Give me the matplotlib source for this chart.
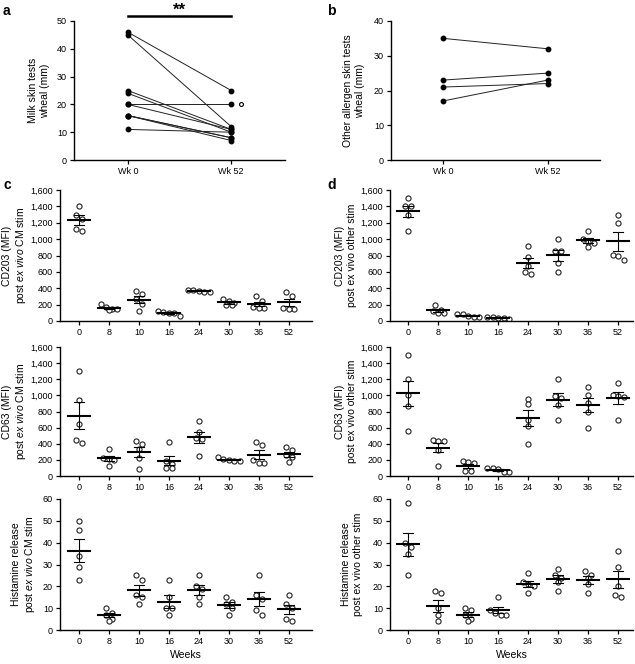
import numpy as np
import matplotlib
matplotlib.use("Agg")
import matplotlib.pyplot as plt
from matplotlib.ticker import FuncFormatter

plt.rcParams['font.family'] = ['Liberation Sans', 'DejaVu Sans']
plt.rcParams['mathtext.fontset'] = 'custom'
plt.rcParams['mathtext.rm'] = 'Liberation Sans'
plt.rcParams['mathtext.it'] = 'Liberation Sans:italic'

# ---- data ----
visits = ['Wk 0', 'Wk 52']
milk_wk0 = [46, 45, 25, 24, 20, 20, 16, 16, 16, 11]
milk_wk52 = [25, 12, 11, 10, 20, 11, 8, 7, 8, 10]
milk_open = [20]
other_wk0 = [35, 23, 21, 17]
other_wk52 = [32, 25, 22, 23]

weeks = ['0', '8', '10', '16', '24', '30', '36', '52']

cd203_cm = [
    [1410, 1300, 1250, 1120, 1100],
    [210, 170, 150, 140, 145],
    [370, 330, 270, 210, 120],
    [120, 110, 100, 95, 60],
    [380, 375, 370, 360, 360],
    [270, 250, 220, 200, 190],
    [300, 240, 170, 160, 160],
    [360, 310, 160, 150, 150],
]
cd203_other = [
    [1500, 1400, 1400, 1300, 1100],
    [190, 140, 120, 100, 100],
    [90, 80, 60, 50, 50],
    [50, 45, 40, 35, 30],
    [910, 780, 670, 600, 570],
    [1000, 860, 850, 710, 600],
    [1100, 1000, 970, 950, 900],
    [1300, 1200, 810, 800, 750],
]
cd63_cm = [
    [1300, 940, 650, 450, 410],
    [340, 220, 210, 200, 120],
    [430, 400, 330, 220, 90],
    [420, 190, 150, 100, 100],
    [680, 540, 470, 460, 250],
    [230, 210, 200, 190, 180],
    [420, 380, 200, 160, 160],
    [360, 320, 260, 230, 170],
]
cd63_other = [
    [1500, 1200, 1000, 870, 560],
    [450, 430, 430, 320, 130],
    [180, 170, 160, 60, 60],
    [100, 100, 90, 50, 50],
    [960, 890, 700, 620, 400],
    [1200, 990, 970, 880, 700],
    [1100, 1000, 900, 800, 600],
    [1150, 1000, 990, 980, 690],
]
hist_cm = [
    [50, 46, 34, 29, 23],
    [10, 8, 7, 5, 4],
    [25, 23, 16, 15, 12],
    [23, 15, 10, 10, 7],
    [25, 20, 19, 15, 12],
    [15, 13, 12, 10, 7],
    [25, 16, 14, 9, 7],
    [16, 12, 10, 5, 4],
]
hist_other = [
    [58, 40, 38, 35, 25],
    [18, 17, 10, 7, 4],
    [10, 9, 7, 5, 4],
    [15, 9, 8, 7, 7],
    [26, 22, 21, 20, 17],
    [28, 25, 24, 22, 18],
    [27, 25, 24, 21, 17],
    [36, 29, 20, 16, 15],
]

W, H = 635, 664
fig = plt.figure(figsize=(W / 100, H / 100), dpi=100)


def px_axes(left, top, right, bottom):
    return fig.add_axes([left / W, 1 - bottom / H, (right - left) / W, (bottom - top) / H])


def style(ax):
    for s in ['top', 'right']:
        ax.spines[s].set_visible(False)
    for s in ['left', 'bottom']:
        ax.spines[s].set_linewidth(1.0)
    ax.tick_params(direction='out', length=3, width=0.9, labelsize=6.5, pad=2)


def swarm(vals, units_per_px, diam=5.5, xpx=30.0):
    vals = np.asarray(vals, float)
    order = np.argsort(vals)[::-1]
    offs = np.zeros(len(vals))
    rows = []
    for i in order:
        if rows and abs(vals[rows[-1][0]] - vals[i]) / units_per_px < diam:
            rows[-1].append(i)
        else:
            rows.append([i])
    for row in rows:
        m = len(row)
        for k, i in enumerate(row):
            offs[i] = (k - (m - 1) / 2) * diam / xpx
    return offs


def scatter_panel(ax, data, ymax, ystep, ylabel, labx, xlim, xlabel=None):
    style(ax)
    upp = ymax / 131.0
    for i, vals in enumerate(data):
        vals = np.asarray(vals, float)
        m = vals.mean()
        sem = vals.std(ddof=1) / np.sqrt(len(vals))
        ax.plot(i + swarm(vals, upp), vals, 'o', ms=3.7, mfc='white', mec='#222222', mew=0.8, zorder=2)
        ax.plot([i - 0.37, i + 0.37], [m, m], color='black', lw=1.5, zorder=3)
        ax.plot([i, i], [m - sem, m + sem], color='black', lw=0.8, zorder=3)
        ax.plot([i - 0.17, i + 0.17], [m + sem, m + sem], color='black', lw=0.8, zorder=3)
        ax.plot([i - 0.17, i + 0.17], [m - sem, m - sem], color='black', lw=0.8, zorder=3)
    ax.set_xlim(*xlim)
    ax.set_ylim(0, ymax)
    ax.set_yticks(np.arange(0, ymax + 1, ystep))
    ax.yaxis.set_major_formatter(FuncFormatter(lambda v, p: '{:,}'.format(int(v))))
    ax.set_xticks(range(len(weeks)))
    ax.set_xticklabels(weeks)
    ax.set_ylabel(ylabel, fontsize=7.5, linespacing=1.2)
    ax.yaxis.set_label_coords(labx, 0.5)
    if xlabel:
        ax.set_xlabel(xlabel, fontsize=7.5, labelpad=3)


# panel a
ax = px_axes(74, 21, 285, 160)
style(ax)
for y0, y1 in zip(milk_wk0, milk_wk52):
    ax.plot([0, 1], [y0, y1], color='#222222', lw=0.7, marker='o', ms=3.2, mfc='black', mec='black')
ax.plot([1.09] * len(milk_open), milk_open, 'o', ms=2.8, mfc='white', mec='black', mew=0.8)
ax.set_xlim(-0.52, 1.52)
ax.set_ylim(0, 50)
ax.set_yticks(range(0, 51, 10))
ax.set_xticks([0, 1])
ax.set_xticklabels(visits)
ax.set_ylabel('Milk skin tests\nwheal (mm)', fontsize=7.5)
ax.yaxis.set_label_coords(-0.114, 0.5)
ax.plot([0, 1], [51.8, 51.8], color='black', lw=1.8, clip_on=False)
ax.text(0.5, 51.2, '**', ha='center', va='bottom', fontsize=12, fontweight='bold')

# panel b
ax = px_axes(391, 21, 600, 160)
style(ax)
for y0, y1 in zip(other_wk0, other_wk52):
    ax.plot([0, 1], [y0, y1], color='#222222', lw=0.7, marker='o', ms=3.2, mfc='black', mec='black')
ax.set_xlim(-0.5, 1.5)
ax.set_ylim(0, 40)
ax.set_yticks(range(0, 41, 10))
ax.set_xticks([0, 1])
ax.set_xticklabels(visits)
ax.set_ylabel('Other allergen skin tests\nwheal (mm)', fontsize=7.5)
ax.yaxis.set_label_coords(-0.124, 0.5)

cm_lab = r'post $\it{ex\ vivo}$ CM stim'
ot_lab = 'post ex vivo other stim'
xl_c = (-0.63, 7.77)
xl_d = (-0.6, 7.5)

scatter_panel(px_axes(60, 190, 312, 321), cd203_cm, 1600, 200, 'CD203 (MFI)\n' + cm_lab, -0.127, xl_c)
scatter_panel(px_axes(390, 190, 633, 321), cd203_other, 1600, 200, 'CD203 (MFI)\n' + ot_lab, -0.136, xl_d)
scatter_panel(px_axes(60, 347, 312, 476), cd63_cm, 1600, 200, 'CD63 (MFI)\n' + cm_lab, -0.127, xl_c)
scatter_panel(px_axes(390, 347, 633, 476), cd63_other, 1600, 200, 'CD63 (MFI)\n' + ot_lab, -0.136, xl_d)
scatter_panel(px_axes(60, 499, 312, 630), hist_cm, 60, 10, 'Histamine release\n' + cm_lab, -0.091, xl_c, 'Weeks')
scatter_panel(px_axes(390, 499, 633, 630), hist_other, 60, 10, 'Histamine release\n' + ot_lab, -0.111, xl_d, 'Weeks')

for letter, x, y in [('a', 3, 4), ('b', 327, 4), ('c', 3, 178), ('d', 327, 178)]:
    fig.text(x / W, 1 - y / H, letter, fontsize=10, fontweight='bold', ha='left', va='top')

fig.savefig('out.png', dpi=100)
